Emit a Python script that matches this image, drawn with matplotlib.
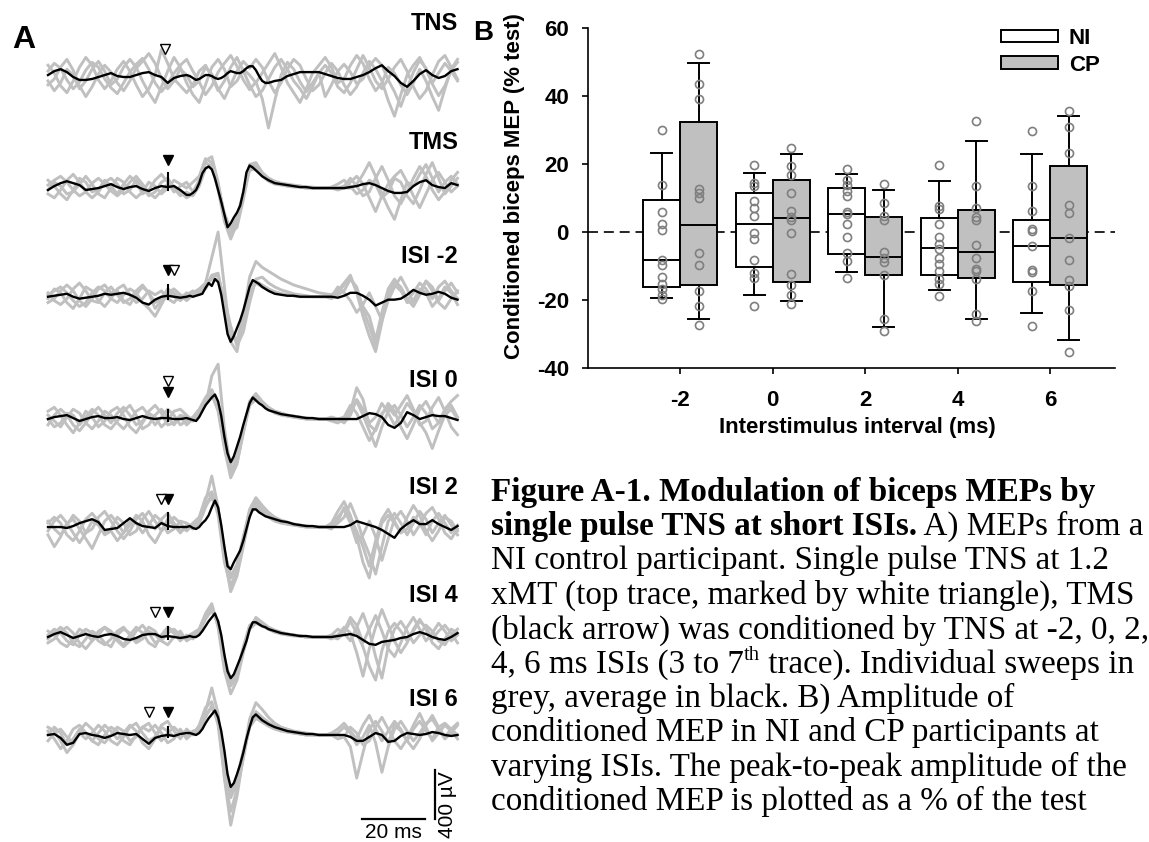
import numpy as np
import matplotlib.pyplot as plt
from matplotlib.patches import Patch

plt.rcParams['font.family'] = ['Liberation Sans', 'DejaVu Sans']
plt.rcParams['axes.unicode_minus'] = False

# ---------------- panel A data ----------------
# amplitudes in units of 8 uV (50 units = 400 uV), time in ms
trace_names = ['TNS', 'TMS', 'ISI -2', 'ISI 0', 'ISI 2', 'ISI 4', 'ISI 6']
isi_ms = [None, None, -2, 0, 2, 4, 6]
tms_time = 38
tns_alone_time = 37
tms_artifact = [15, 12, 9, 14, 10, 8]

# averages: [t 0..42 step 2, t 44..69 step 1, t 70..130 step 2]
avg_tns = [
    [2, 6, 8, 5, 0, -3, -3, -2, 0, 2, 4, 1, 0, 0, 2, 4, 5, 2, 0, -6, -1, 1],
    [2, 1, -1, -3, -2, 0, 2, 2, 1, -1, -2, -1, 1, 4, 6, 5, 4, 4, 6, 9, 11, 11, 7, 1, -4, -6],
    [-6, -4, -3, 1, 3, 5, 5, 5, 5, 3, 1, -1, -2, -2, 0, 2, 5, 9, 12, 6, 1, -6, -10, -4, 3, 7, 2, -1, 1, 6, 8]]
avg_tms = [
    [-2, 2, 5, 7, 5, 3, -2, -1, 0, 2, 4, 1, -1, 1, 2, -1, -3, 0, 2, 1, 2, -2],
    [-7, -7, -5, -2, 5, 15, 20, 22, 19, 10, -2, -14, -27, -40, -36, -30, -25, -18, -4, 16, 23, 21, 18, 15, 12, 10],
    [8, 5, 4, 3, 2, 1, 1, 0, 0, 0, 0, 0, 0, 1, 2, 4, 5, 3, 0, -3, -5, -5, -4, 2, 6, 8, 3, 1, 0, 5, 3]]
avg_isim2 = [
    [0, 1, 2, 3, 0, -2, -1, 0, 1, 3, 2, 3, 4, 2, -1, -6, -8, -3, 0, 1, 0, -1],
    [0, 1, 0, 1, 2, 3, 9, 14, 11, 18, 15, 2, -18, -38, -46, -40, -32, -24, -14, -2, 10, 17, 15, 13, 10, 8],
    [6, 3, 2, 1, 1, 0, 0, 0, 0, 0, 0, -1, 1, 4, 4, 1, -3, -9, -6, -3, -3, -2, 2, 7, 4, 2, 3, 5, 3, -1, -3]]
avg_isi0 = [
    [0, 2, 3, 4, 1, -2, 0, 2, 3, 1, 1, 2, 0, -1, 1, 3, 1, 0, 1, 1, 0, 0],
    [1, 0, -1, -2, 2, 8, 14, 18, 22, 25, 18, 3, -18, -35, -44, -38, -28, -18, -6, 5, 16, 22, 19, 16, 14, 11],
    [9, 7, 5, 4, 3, 2, 1, 1, 0, 0, 0, 0, 0, 0, 0, 3, 6, 5, 2, -6, -9, -4, 7, 4, 0, 2, 4, 3, 3, 1, -1]]
avg_isi2 = [
    [0, 0, 0, -1, 1, 4, 6, 8, 5, -3, -2, -1, 4, 9, 4, 1, 0, -1, 4, 1, 0, 0],
    [0, 1, -1, -2, 0, 4, 7, 12, 20, 27, 20, 2, -20, -40, -43, -36, -30, -24, -14, -2, 10, 18, 18, 15, 13, 11],
    [10, 8, 6, 5, 3, 2, 1, 1, 0, 0, 0, 0, 0, 2, 6, 4, 2, 0, -3, -7, -11, -2, 3, 7, 3, 3, 7, 3, 0, -3, 1]]
avg_isi4 = [
    [0, 3, 5, 2, -1, 1, 3, 1, 0, 2, 3, 1, -2, -3, -1, 2, 3, 3, 0, 1, 0, -1],
    [0, 1, 0, 0, 2, 6, 11, 16, 20, 24, 16, 2, -18, -35, -42, -38, -30, -22, -13, -4, 8, 15, 15, 13, 11, 10],
    [8, 6, 4, 3, 2, 1, 1, 0, 0, 0, 0, 1, 2, 3, 1, -3, -7, -8, -5, -4, -3, -1, 0, 3, 5, 3, 0, -2, -3, 0, 4]]
avg_isi6 = [
    [0, 1, -3, -10, -8, 1, 2, 0, -1, -3, -1, 2, 1, 0, 1, -4, -9, -3, -1, 0, -1, 1],
    [2, 2, 1, 0, 2, 6, 12, 17, 21, 25, 18, 4, -16, -40, -53, -49, -40, -30, -18, -4, 8, 18, 21, 18, 15, 13],
    [11, 8, 6, 4, 3, 2, 1, 1, 0, 0, 0, 0, 0, -2, -6, -6, -2, 2, 0, -7, -6, -1, 2, 1, 0, 1, 3, 2, 0, -1, 0]]

# individual sweeps, t 0..130 step 2
sweeps_tns = [
    [6, 14, 9, -3, -12, -5, 7, 15, 10, -2, -11, -17, -6, 5, 13, 19, 8, -6, -15, -7, 4, 12,
     18, 6, -5, -18, -9, 5, 14, 22, 11, -3, -13, -5, -22, -52, -24, 2, 15, 8, -5, -15, -6, 4,
     -20, -8, 6, 13, 5, -7, -2, 11, 19, 12, -3, -15, -30, -12, 5, 17, 9, -7, -19, -9, 7, 15],
    [-8, -2, 10, 18, 7, -9, -20, -10, 3, 12, 5, -6, -14, -4, 9, 16, 24, 14, -1, -12, -4, 8,
     2, -10, -4, 10, 3, -12, -22, -8, 6, 16, 9, 18, 10, -4, -16, -6, 8, 18, 12, -2, -14, -8,
     4, 14, 6, -8, -18, -10, 4, 16, 8, -4, -24, -40, -18, 2, 12, 20, 8, -6, 4, 14, 6, -4],
    [12, 4, -9, -16, -4, 10, 20, 12, -3, -12, -4, 8, 16, 6, -8, -20, -12, 2, 28, 14, -2, -9,
     -16, -8, 6, 12, 0, -14, -4, 10, 20, 6, -8, -20, -14, -2, 10, 18, 8, -4, -12, -22, -10, 4,
     12, 4, -10, -16, -6, 8, 22, 10, -4, -12, -2, 10, 18, 6, -10, -22, -14, 2, 16, 22, 10, -2],
    [-4, -14, -6, 8, 2, -12, -4, 8, 16, 6, -8, -2, 10, 18, 10, -4, -16, -26, -10, 6, 20, 10,
     -6, -18, -26, -8, 10, 18, 8, -10, -4, 8, 2, -6, 4, 14, 24, 10, -6, -16, -26, -12, 4, 12,
     20, 10, -6, -2, 12, 22, 14, -2, -14, -6, 10, 4, -8, -18, -6, 8, -4, -20, -34, -12, 8, 18]]
sweeps_tms = [
    [3, 8, 12, 6, -2, -8, -4, 5, 10, 4, -3, -8, -2, 6, 12, 4, -5, -10, -3, 4, 2, -4,
     -10, -6, 6, 28, 32, 6, -30, -48, -34, -6, 24, 26, 16, 10, 7, 5, 4, 3, 2, 1, 1, 0,
     0, 0, 0, 0, 0, 4, 14, 26, 12, -6, -20, -32, -12, 6, 2, 14, 24, 10, -4, 6, 12, 4],
    [-6, -10, -2, 8, 14, 6, -4, -10, -4, 6, 10, 4, -6, -2, 8, 2, -8, -4, 6, 10, 0, -8,
     -4, -8, 2, 20, 24, 2, -26, -42, -30, -4, 18, 20, 12, 7, 4, 3, 2, 1, 1, 0, 0, 0,
     0, 0, -2, 0, 6, 12, 4, -10, -24, -8, 4, 12, 18, 6, -8, -20, -6, 8, 16, 6, -4, 2],
    [8, 2, -6, -12, -2, 10, 6, -4, -2, 8, 2, -6, 4, 12, 6, -6, -2, 8, 14, 6, -4, 2,
     6, -4, 8, 26, 22, -2, -34, -52, -36, -8, 22, 24, 15, 10, 6, 4, 3, 2, 2, 1, 0, 0,
     0, 0, 0, 2, 10, 2, -8, -4, 10, 22, 8, -8, -16, -4, 10, 22, 12, -2, -12, -4, 8, 16],
    [-2, 6, 2, -6, -4, 4, 12, 4, -6, -10, 0, 10, 6, -4, -10, -4, 6, 2, -6, 0, 8, 4,
     0, 6, 12, 30, 26, 4, -28, -46, -40, -12, 20, 22, 14, 9, 6, 4, 2, 2, 1, 0, 0, 0,
     0, 1, 4, 8, 2, -6, -2, 8, 4, -10, -4, 10, 6, -8, -16, -2, 14, 26, 10, -6, 2, 10]]
sweeps_isim2 = [
    [2, 6, 10, 4, -4, -10, -6, 4, 10, 6, -2, -6, 2, 8, 4, -6, -12, -20, -8, 4, 8, 2,
     -2, 4, 8, 14, 40, 66, 10, -46, -56, -20, 20, 36, 30, 26, 22, 18, 15, 12, 10, 8, 6, 4,
     3, 2, 2, 6, 18, 10, -12, -30, -50, -20, 4, 12, 6, -4, 4, 14, 8, -2, 10, 16, 6, -2],
    [-6, -2, 6, 12, 6, -4, -10, -2, 8, 12, 4, 6, -4, -8, 2, 10, 4, -6, -2, 8, 4, -2,
     4, 0, 6, 10, 22, 24, -8, -40, -44, -20, 10, 16, 12, 8, 5, 3, 2, 1, 1, 0, 0, 0,
     0, 2, 6, 14, 22, 4, -20, -40, -56, -26, 2, 16, 10, -2, -10, 2, 16, 10, -4, 6, 14, 4],
    [4, -4, -8, -2, 8, 14, 6, -4, -6, 4, 10, 2, -6, -2, 6, 12, 4, -12, -4, 6, 0, -4,
     2, 6, 2, 12, 18, 18, -2, -30, -50, -36, -6, 18, 20, 14, 10, 7, 5, 3, 2, 1, 0, 0,
     0, 0, 10, 4, -4, -16, -8, 4, -10, -24, -4, 10, 20, 8, -6, 4, 16, 6, -6, -12, -2, 6],
    [-2, 8, 4, -6, -12, -2, 10, 6, -4, -10, -2, 8, 12, 2, -6, -2, 6, 2, 6, -2, -6, 2,
     -4, 2, 4, 8, 20, 22, -6, -38, -46, -26, 4, 14, 10, 7, 5, 3, 2, 1, 0, 0, 0, 0,
     0, -2, 4, 12, 20, 6, -10, -20, -44, -16, 8, 18, 8, -6, -4, 8, 4, -10, -2, 10, 4, -8]]
sweeps_isi0 = [
    [4, -2, -8, 2, 10, 6, -4, -10, -2, 8, 4, -4, -10, -2, 8, 12, 4, -6, 2, 10, 4, -6,
     -2, 2, 10, 22, 30, 14, -28, -56, -40, -10, 18, 26, 18, 12, 8, 6, 4, 3, 2, 1, 0, 0,
     0, 0, 0, 0, 8, 32, 20, -6, -12, 4, 16, 8, -8, -20, -6, 10, 18, 6, -4, 8, 14, 2],
    [-6, 4, 10, 4, -6, -12, -4, 6, 12, 4, -4, 6, 12, 4, -6, -2, 8, 14, 6, -6, -4, 4,
     2, -2, 6, 14, 44, 56, -10, -50, -44, -14, 14, 20, 14, 10, 6, 4, 3, 2, 1, 0, 0, 0,
     0, 0, 0, 2, 14, 6, -8, -22, -10, 6, 12, 4, 14, 24, 10, -4, -14, -30, -12, 4, 10, 0],
    [8, 12, 4, -6, -14, -4, 8, 2, -8, -2, 8, 12, 4, -8, -14, -4, 6, 2, -8, -2, 8, 10,
     4, -2, 4, 20, 26, 8, -30, -60, -46, -14, 16, 24, 16, 11, 7, 5, 3, 2, 1, 0, 0, 0,
     0, 2, 0, -4, 4, 20, 10, -4, 2, 16, 6, -6, 4, 16, 8, -6, -2, 12, 22, 8, -8, -16],
    [0, -8, -4, 6, 4, -6, 2, 10, 4, -6, -10, -2, 8, 14, 4, -10, -6, 4, 10, 2, -6, 2,
     -6, 0, 8, 18, 24, 10, -24, -46, -38, -10, 16, 22, 16, 11, 8, 6, 4, 3, 2, 1, 0, 0,
     0, -2, -4, 0, 10, 18, 4, -12, -28, -8, 8, 14, 4, -8, 2, 14, 6, -10, -4, 10, 18, 24]]
sweeps_isi2 = [
    [4, 10, 4, -8, -14, -4, 8, 14, 6, -6, -2, 10, 4, -8, -4, 8, 16, 6, -4, 2, 10, 4,
     -4, 2, 8, 26, 52, 20, -30, -66, -50, -20, 12, 26, 18, 12, 8, 6, 4, 3, 2, 1, 0, 0,
     0, 4, 16, 26, 12, -10, -36, -52, -20, 4, 12, 4, -6, 10, 22, 12, -4, -14, -4, 10, 6, -4],
    [-8, -20, -10, 4, 8, -2, -12, -22, -8, 6, 12, 4, -6, 2, 12, 6, -8, -16, -4, 8, 2, -6,
     2, -2, 4, 20, 34, 18, -24, -52, -40, -14, 14, 20, 14, 10, 6, 4, 3, 2, 1, 0, 0, 0,
     0, 2, 10, 18, 4, -16, -8, 6, -10, -34, -12, 8, 16, 6, -8, 2, 14, 20, 8, -6, -12, -2],
    [6, -2, -8, 2, 12, 6, -6, -2, 10, 16, 6, -4, -12, -4, 8, 14, 4, -2, 8, 14, 4, -4,
     -2, 4, 10, 30, 36, 12, -36, -60, -44, -12, 18, 30, 22, 15, 10, 7, 5, 3, 2, 1, 0, 0,
     0, 0, 4, 10, 24, 8, -12, -28, -48, -20, 6, 14, 4, -8, 4, 16, 8, -6, 4, 12, 2, -8],
    [-4, 6, 12, 4, -6, -16, -6, 6, 2, -8, -4, -14, -6, 8, 4, -6, 2, 12, 6, -6, -2, 6,
     4, 0, 6, 22, 30, 16, -26, -50, -38, -10, 16, 22, 16, 11, 7, 5, 3, 2, 1, 0, 0, 0,
     0, -2, 6, 20, 10, -4, -20, -40, -14, 8, 18, 6, -6, -2, 10, 4, -8, 6, 14, 4, -6, 2]]
sweeps_isi4 = [
    [2, 8, 4, -4, -8, 2, 8, 4, -4, -8, -2, 6, 10, 2, -6, -2, 6, 2, -4, 4, 8, 2,
     -2, 2, 8, 22, 30, 12, -28, -50, -40, -14, 10, 18, 13, 9, 6, 4, 3, 2, 1, 0, 0, 0,
     0, 2, 8, 4, -4, 10, 24, 6, -20, -42, -10, 8, 16, 6, -6, 2, 12, 6, -4, -8, 2, 8],
    [-6, -2, 6, 10, 4, -6, -12, -4, 6, 10, 2, -4, -10, -4, 6, 12, 4, -6, -2, 8, 4, -4,
     2, -2, 6, 18, 28, 14, -24, -46, -36, -10, 12, 16, 12, 8, 5, 3, 2, 1, 1, 0, 0, 0,
     0, 0, 2, 10, 4, -16, -40, -12, 10, 28, 12, -4, -16, -6, 8, 18, 8, -6, -12, -2, 8, 4],
    [6, 2, -6, -10, -2, 8, 4, -4, 2, 10, 6, -2, -8, 2, 10, 4, -6, -10, 2, 10, 6, -2,
     0, 4, 8, 24, 34, 10, -34, -58, -44, -16, 8, 20, 15, 10, 7, 5, 3, 2, 1, 0, 0, 0,
     0, 0, -2, 4, 16, 4, -10, -30, -44, -14, 6, 14, 6, -4, 6, 16, 10, -2, 6, 12, 4, -6],
    [-2, 4, 10, 4, -6, -10, -2, 6, 2, -6, -10, 2, 8, 4, -4, 2, 10, 6, -4, -8, 0, 6,
     -4, 0, 4, 20, 26, 16, -22, -44, -38, -12, 8, 14, 11, 8, 5, 4, 3, 2, 1, 0, 0, 0,
     0, -2, 2, 6, 20, 12, -6, 8, 22, 6, -12, -20, -6, 10, 20, 8, -4, 4, 14, 6, -4, 2]]
sweeps_isi6 = [
    [4, -4, -14, -6, 6, 10, 2, -6, 2, 10, 4, -4, 2, 10, 4, -8, -14, -4, 8, 4, -2, 2,
     4, 2, 8, 24, 48, 22, -44, -92, -62, -22, 16, 33, 26, 18, 12, 8, 6, 4, 3, 2, 1, 0,
     0, 0, 0, -2, -12, -44, -18, 6, 14, 4, -8, 10, 4, -6, 6, 14, 4, -4, 8, 12, 6, 0],
    [-6, 2, 6, -2, -8, 4, 12, 6, -4, -8, 0, 8, 4, -6, -2, 8, 12, 2, -6, 2, 8, 2,
     -2, 4, 6, 18, 30, 16, -30, -64, -50, -20, 8, 20, 16, 11, 7, 5, 3, 2, 1, 0, 0, 0,
     0, 0, 2, 8, 2, -10, -2, 10, -8, -38, -12, 6, 14, 4, -6, 2, 12, 16, 6, -4, 2, 10],
    [8, 4, -6, -18, -10, 2, -4, 2, 10, 4, -6, -10, -2, 8, 12, 2, -6, -2, 10, 14, 4, -4,
     6, 0, 10, 28, 34, 10, -42, -78, -56, -24, 10, 24, 18, 13, 9, 6, 4, 3, 2, 1, 0, 0,
     0, 2, 6, 12, 4, -4, 10, 20, 6, -6, 4, 14, 6, -6, -14, -4, 10, 20, 8, -2, 6, 12],
    [0, 8, 2, -10, -4, 6, 2, -6, -10, 0, 8, 4, -6, -10, 0, 8, 4, 10, 2, -8, -4, 6,
     -4, 2, 4, 20, 28, 14, -26, -58, -44, -16, 8, 17, 13, 9, 6, 4, 3, 2, 1, 0, 0, 0,
     0, 0, -4, -2, 8, 2, -10, -6, 8, 18, 6, -6, -14, -4, 10, 22, 8, -6, 2, 10, 4, -4]]

averages = [avg_tns, avg_tms, avg_isim2, avg_isi0, avg_isi2, avg_isi4, avg_isi6]
sweeps = [sweeps_tns, sweeps_tms, sweeps_isim2, sweeps_isi0, sweeps_isi2, sweeps_isi4, sweeps_isi6]

# ---------------- panel B data ----------------
isi_groups = [-2, 0, 2, 4, 6]
ni_q1 = [-16.3, -10.4, -6.5, -12.7, -14.8]
ni_med = [-8.4, 2.2, 5.1, -4.7, -4.3]
ni_q3 = [9.5, 11.3, 12.8, 4.2, 3.4]
ni_lo = [-19.5, -18.7, -11.7, -17.1, -24.0]
ni_hi = [23.3, 17.4, 17.1, 14.9, 23.0]
cp_q1 = [-15.6, -14.8, -12.7, -13.5, -15.6]
cp_med = [1.9, 4.2, -7.3, -5.8, -1.8]
cp_q3 = [32.2, 15.4, 4.4, 6.3, 19.5]
cp_lo = [-25.6, -20.4, -27.9, -25.6, -31.8]
cp_hi = [49.8, 23.0, 12.4, 26.7, 34.0]
ni_points = [
    [30.1, 13.7, 5.8, 2.2, 0.6, -8.2, -9.7, -13.4, -15.3, -16.8, -18.5, -19.7],
    [19.8, 14.5, 13.5, 9.0, 7.0, 4.8, -0.4, -2.1, -8.4, -12.1, -13.6, -21.9],
    [18.6, 15.4, 13.7, 11.9, 10.5, 5.8, 5.3, 2.2, -1.6, -6.2, -8.6, -13.6],
    [19.8, 7.5, 6.8, 2.2, -1.4, -3.7, -5.0, -7.7, -9.4, -11.6, -13.8, -15.3, -18.8],
    [29.7, 13.5, 6.1, 0.9, 0.1, -4.3, -11.2, -11.9, -17.5, -27.8]]
cp_points = [
    [52.3, 43.6, 39.0, 12.5, 11.5, 9.9, -6.3, -9.7, -17.5, -21.9, -27.3],
    [24.8, 19.3, 16.6, 11.5, 6.1, 4.3, 3.4, -0.3, -12.4, -15.8, -18.5, -21.2],
    [14.2, 8.6, 4.8, 3.4, -6.0, -7.7, -8.9, -12.7, -25.6, -29.1],
    [32.7, 13.4, 7.1, 4.3, 3.6, -4.0, -7.8, -10.9, -11.6, -13.8, -24.2, -26.3],
    [35.6, 30.9, 23.3, 7.8, 5.5, -1.8, -8.4, -14.1, -16.0, -22.9, -35.5]]

caption_lines = [
    'Figure A-1. Modulation of biceps MEPs by',
    'single pulse TNS at short ISIs.',
    'NI control participant. Single pulse TNS at 1.2',
    'xMT (top trace, marked by white triangle), TMS',
    '(black arrow) was conditioned by TNS at -2, 0, 2,',
    '4, 6 ms ISIs (3 to 7',
    'grey, average in black. B) Amplitude of',
    'conditioned MEP in NI and CP participants at',
    'varying ISIs. The peak-to-peak amplitude of the',
    'conditioned MEP is plotted as a % of the test',
]
caption_line2_rest = ' A) MEPs from a'
caption_line6_sup = 'th'
caption_line6_rest = ' trace). Individual sweeps in'

GREY = '#c0c0c0'
SERIF = 'Liberation Serif'
CAP_SIZE = 23.9

fig = plt.figure(figsize=(11.49, 8.42), dpi=100)

# ---------------- panel A ----------------
ax_a = fig.add_axes([0, 0, 480 / 1149, 1])
ax_a.set_xlim(-48 / 3.15, 432 / 3.15)
ax_a.set_ylim(0, 842 / 0.98)
ax_a.axis('off')

row_base = [780.6, 667.3, 556.4, 431.6, 321.4, 209.2, 109.2]
label_y = [834.7, 713.3, 597.0, 471.4, 362.2, 252.0, 144.9]
marker_dy = [28.6, 28.6, 27, 28, 29, 25.5, 23]

for k, name in enumerate(trace_names):
    base = row_base[k]
    for s in sweeps[k]:
        t = np.arange(len(s)) * 2
        ax_a.plot(t, base + np.array(s), color=GREY, lw=2.1, zorder=1,
                  solid_joinstyle='round')
    pre, mep, post = averages[k]
    t_avg = np.concatenate([np.arange(len(pre)) * 2, 44 + np.arange(len(mep)),
                            70 + np.arange(len(post)) * 2])
    v = np.concatenate([pre, mep, post])
    ax_a.plot(t_avg, base + v, color='black', lw=1.7, zorder=3)
    ax_a.text(130.2, label_y[k], name, ha='right', va='center', fontsize=17,
              fontweight='bold')

    my = base + marker_dy[k]
    if k == 0:
        ax_a.plot(tns_alone_time, my, 'v', ms=6.5, mfc='white', mec='black', mew=1.0, zorder=4)
        continue
    ax_a.plot([tms_time, tms_time], [base - 2, base + tms_artifact[k - 1]],
              color='black', lw=1.5, zorder=3)
    ax_a.plot(tms_time, my, 'v', ms=6.5, color='black', zorder=4)
    isi = isi_ms[k]
    if isi is not None:
        if isi == 0:
            ax_a.plot(tms_time, my + 11, 'v', ms=6.5, mfc='white', mec='black', mew=1.0, zorder=4)
        else:
            ax_a.plot(tms_time - isi, my, 'v', ms=6.5, mfc='white', mec='black', mew=1.0, zorder=4)

# scale bars (20 ms, 400 uV = 50 units)
ax_a.plot([99.7, 119.7], [23.5, 23.5], color='black', lw=1.6)
ax_a.plot([122.9, 122.9], [23.5, 73.5], color='black', lw=1.6)
ax_a.text(109.7, 9.5, '20 ms', ha='center', va='center', fontsize=15)
ax_a.text(126.8, 38, '400 µV', ha='center', va='center', fontsize=15, rotation=90)

# ---------------- panel B ----------------
ax_b = fig.add_axes([587.7 / 1149, (842 - 367.7) / 842, 527.3 / 1149, 339.7 / 842])
ax_b.set_xlim(-4, 7.4)
ax_b.set_ylim(-40, 60)
ax_b.axhline(0, color='black', lw=1.2, ls=(0, (6, 3.5)), zorder=1)


def make_stats(q1, med, q3, lo, hi):
    return [dict(q1=a, med=b, q3=c, whislo=d, whishi=e, fliers=[])
            for a, b, c, d, e in zip(q1, med, q3, lo, hi)]


for stats, fc, dx in [(make_stats(ni_q1, ni_med, ni_q3, ni_lo, ni_hi), 'white', -0.4),
                      (make_stats(cp_q1, cp_med, cp_q3, cp_lo, cp_hi), GREY, 0.4)]:
    ax_b.bxp(stats, positions=np.array(isi_groups) + dx, widths=0.8, capwidths=0.45,
             patch_artist=True, showfliers=False, manage_ticks=False,
             boxprops=dict(facecolor=fc, edgecolor='black', linewidth=1.4),
             whiskerprops=dict(color='black', linewidth=1.4),
             capprops=dict(color='black', linewidth=1.4),
             medianprops=dict(color='black', linewidth=1.4), zorder=2)

for pts_list, dx in [(ni_points, -0.4), (cp_points, 0.4)]:
    for g, pts in zip(isi_groups, pts_list):
        ax_b.plot([g + dx] * len(pts), pts, 'o', mfc='none', mec='#7f7f7f', ms=5.8,
                  mew=1.2, zorder=4)

for sp in ['top', 'right']:
    ax_b.spines[sp].set_visible(False)
for sp in ['left', 'bottom']:
    ax_b.spines[sp].set_linewidth(1.2)
ax_b.set_yticks([-40, -20, 0, 20, 40, 60])
ax_b.set_xticks(isi_groups)
ax_b.tick_params(axis='y', length=4.5, width=1.2, pad=9, labelsize=16)
ax_b.tick_params(axis='x', length=4, width=1.2, pad=12, labelsize=16)
for lab in ax_b.get_xticklabels() + ax_b.get_yticklabels():
    lab.set_fontweight('bold')
ax_b.set_ylabel('Conditioned biceps MEP (% test)', fontsize=16, fontweight='bold')
ax_b.yaxis.set_label_coords(-0.119, 0.535)
ax_b.set_xlabel('Interstimulus interval (ms)', fontsize=16, fontweight='bold')
ax_b.xaxis.set_label_coords(0.5107, -0.145)

handles = [Patch(facecolor='white', edgecolor='black', linewidth=1.4, label='NI'),
           Patch(facecolor=GREY, edgecolor='black', linewidth=1.4, label='CP')]
ax_b.legend(handles=handles, loc='upper left', bbox_to_anchor=(0.784, 1.0),
            frameon=False, borderpad=0, borderaxespad=0, handlelength=2.55,
            handleheight=0.48, handletextpad=0.5, labelspacing=0.25,
            prop=dict(size=16, weight='bold'))

# panel letters
fig.text(24 / 1149, 1 - 40.5 / 842, 'A', ha='center', va='center', fontsize=23, fontweight='bold')
fig.text(483.5 / 1149, 1 - 32.5 / 842, 'B', ha='center', va='center', fontsize=20, fontweight='bold')

# ---------------- caption ----------------
cap_x = 491 / 1149
for i, line in enumerate(caption_lines):
    y = 1 - (500.7 + 34.4 * i) / 842
    w = 'bold' if i < 2 else 'normal'
    t = fig.text(cap_x, y, line, fontfamily=SERIF, fontsize=CAP_SIZE,
                 fontweight=w, va='baseline', ha='left')
    if i == 1:
        ax_a.annotate(caption_line2_rest, xy=(1, 0), xycoords=t, va='bottom', ha='left',
                      fontfamily=SERIF, fontsize=CAP_SIZE)
    if i == 5:
        sup = ax_a.annotate(caption_line6_sup, xy=(1, 0.5), xycoords=t, va='bottom',
                            ha='left', fontfamily=SERIF, fontsize=CAP_SIZE * 0.62)
        ax_a.annotate(caption_line6_rest, xy=(1, 0), xycoords=(sup, t), va='bottom',
                      ha='left', fontfamily=SERIF, fontsize=CAP_SIZE)

fig.savefig('out.png', dpi=100)
